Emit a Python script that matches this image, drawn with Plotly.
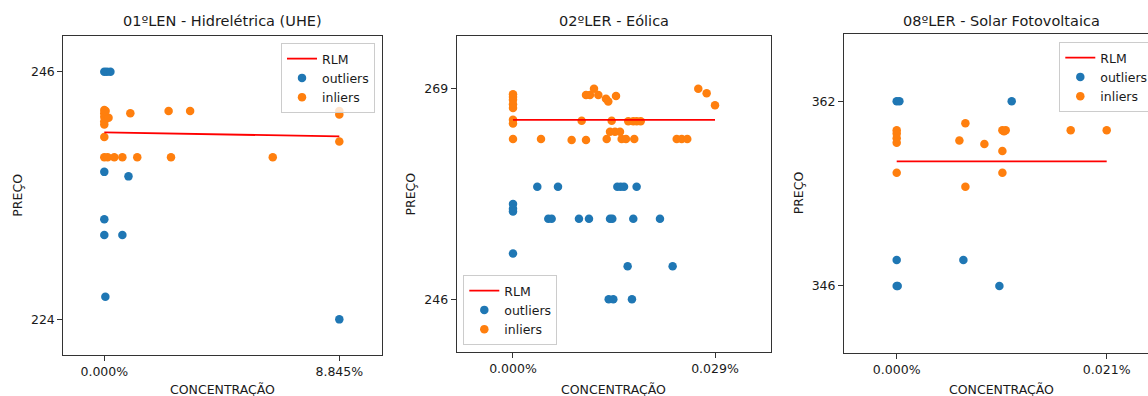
import plotly.graph_objects as go

# ---------------- data ----------------
titles = ["01ºLEN - Hidrelétrica (UHE)", "02ºLER - Eólica", "08ºLER - Solar Fotovoltaica"]

# 01ºLEN - Hidrelétrica (UHE): concentração (%) x preço
len01_out_x = [0.0, 0.10, 0.23, 0.0, 0.91, 0.0, 0.0, 0.68, 0.04, 8.845]
len01_out_y = [246.0, 246.0, 246.0, 237.1, 236.7, 232.9, 231.5, 231.5, 226.0, 224.0]
len01_in_x = [0.0, 0.0, 0.0, 0.0, 0.0, 0.16, 0.05, 0.98, 2.42, 3.23, 8.845, 8.845,
              0.0, 8.845, 0.0, 0.125, 0.376, 0.68, 1.24, 2.51, 6.34]
len01_in_y = [242.6, 242.3, 242.0, 241.6, 241.3, 241.9, 242.5, 242.3, 242.5, 242.5, 242.5, 242.2,
              240.2, 239.8, 238.4, 238.4, 238.4, 238.4, 238.4, 238.4, 238.4]
len01_rlm_x = [0.0, 8.845]
len01_rlm_y = [240.6, 240.25]

# 02ºLER - Eólica
ler02_out_x = [0.00349, 0.00646, 0.01498, 0.01546, 0.01594, 0.01775,
               0.0, 0.0, 0.0,
               0.00507, 0.00555, 0.00947, 0.01091, 0.01393, 0.01426, 0.01727, 0.0211,
               0.0, 0.01646, 0.02292, 0.01374, 0.0144, 0.01708]
ler02_out_y = [258.3, 258.3, 258.3, 258.3, 258.3, 258.3,
               256.4, 255.9, 255.6,
               254.8, 254.8, 254.8, 254.8, 254.8, 254.8, 254.8, 254.8,
               251.0, 249.6, 249.6, 246.0, 246.0, 246.0]
ler02_in_x = [0.0, 0.0, 0.0, 0.0, 0.0, 0.0, 0.0, 0.0,
              0.00402, 0.00842, 0.01048, 0.00986,
              0.01048, 0.01105, 0.01163, 0.01225, 0.01335, 0.01368, 0.01479,
              0.01417, 0.01655, 0.01727, 0.01776, 0.01833,
              0.01393, 0.01464, 0.01536,
              0.01345, 0.0156, 0.01622, 0.01741,
              0.0235, 0.02422, 0.02502,
              0.0266, 0.0278, 0.029]
ler02_in_y = [268.4, 268.1, 267.8, 267.3, 266.9, 265.6, 265.2, 263.5,
              263.5, 263.4, 263.4, 265.5,
              268.3, 268.3, 269.0, 268.3, 267.9, 267.6, 268.2,
              265.5, 265.45, 265.45, 265.45, 265.45,
              264.3, 264.3, 264.3,
              263.5, 263.5, 263.5, 263.5,
              263.5, 263.5, 263.5,
              269.0, 268.5, 267.2]
ler02_rlm_x = [0.0, 0.029]
ler02_rlm_y = [265.6, 265.6]

# 08ºLER - Solar Fotovoltaica
ler08_out_x = [0.0, 0.00027, 0.0115, 0.0, 0.00667, 0.0, 0.0001, 0.01027]
ler08_out_y = [362.0, 362.0, 362.0, 348.25, 348.25, 346.0, 346.0, 346.0]
ler08_in_x = [0.0, 0.0, 0.0, 0.0, 0.0,
              0.00687, 0.00627, 0.00877, 0.01057, 0.0109, 0.01073,
              0.01057, 0.01057, 0.00687, 0.0174, 0.021]
ler08_in_y = [359.5, 359.2, 358.8, 358.4, 355.8,
              360.1, 358.6, 358.3, 359.5, 359.5, 359.4,
              357.7, 355.8, 354.6, 359.5, 359.5]
ler08_rlm_x = [0.0, 0.021]
ler08_rlm_y = [356.8, 356.8]

x_tickvals = [[0.0, 8.845], [0.0, 0.029], [0.0, 0.021]]
x_ticktext = [["0.000%", "8.845%"], ["0.000%", "0.029%"], ["0.000%", "0.021%"]]
y_tickvals = [[224, 246], [246, 269], [346, 362]]
y_ticktext = [["224", "246"], ["246", "269"], ["346", "362"]]

x_label = "CONCENTRAÇÃO"
y_label = "PREÇO"
legend_names = ["RLM", "outliers", "inliers"]

# ---------------- layout geometry ----------------
W, H = 1148, 396
x_domains = [[63.3 / W, 381.7 / W], [456.7 / W, 770.7 / W], [844 / W, 1.0]]
y_domains = [[1 - 354.5 / H, 1 - 36.3 / H], [1 - 351.7 / H, 1 - 36 / H], [1 - 352.7 / H, 1 - 34 / H]]
x_ranges = [[-1.543, 10.44], [-0.00808, 0.036996], [-0.00527, 0.02513]]
y_ranges = [[220.88, 249.14], [240.28, 274.75], [340.22, 367.83]]

BLUE = "#1f77b4"
ORANGE = "#ff7f0e"
RED = "#ff0000"
FONT = "DejaVu Sans"
TEXT = "#1a1a1a"

panels = [
    (len01_out_x, len01_out_y, len01_in_x, len01_in_y, len01_rlm_x, len01_rlm_y),
    (ler02_out_x, ler02_out_y, ler02_in_x, ler02_in_y, ler02_rlm_x, ler02_rlm_y),
    (ler08_out_x, ler08_out_y, ler08_in_x, ler08_in_y, ler08_rlm_x, ler08_rlm_y),
]

fig = go.Figure()
legend_ids = ["legend", "legend2", "legend3"]

for i, (ox, oy, ix, iy, rx, ry) in enumerate(panels):
    xa = "x" if i == 0 else f"x{i + 1}"
    ya = "y" if i == 0 else f"y{i + 1}"
    lg = legend_ids[i]
    fig.add_trace(go.Scatter(x=ox, y=oy, mode="markers", name=legend_names[1],
                             marker=dict(color=BLUE, size=8.5), xaxis=xa, yaxis=ya,
                             legend=lg, legendrank=2))
    fig.add_trace(go.Scatter(x=ix, y=iy, mode="markers", name=legend_names[2],
                             marker=dict(color=ORANGE, size=8.5), xaxis=xa, yaxis=ya,
                             legend=lg, legendrank=3))
    fig.add_trace(go.Scatter(x=rx, y=ry, mode="lines", name=legend_names[0],
                             line=dict(color=RED, width=1.8), xaxis=xa, yaxis=ya,
                             legend=lg, legendrank=1))

axis_common = dict(showgrid=False, zeroline=False, showline=True, linecolor="#333333",
                   linewidth=1, ticks="outside", ticklen=5, tickcolor="#333333",
                   tickfont=dict(family=FONT, size=12.5, color=TEXT))

layout = dict(
    width=W, height=H,
    margin=dict(l=0, r=0, t=0, b=0, pad=0, autoexpand=False),
    paper_bgcolor="white", plot_bgcolor="white",
    font=dict(family=FONT, size=12, color=TEXT),
)

for i in range(3):
    sfx = "" if i == 0 else str(i + 1)
    xa = dict(axis_common, domain=x_domains[i], range=x_ranges[i],
              tickmode="array", tickvals=x_tickvals[i], ticktext=x_ticktext[i],
              anchor="y" + sfx, mirror=True)
    ya = dict(axis_common, domain=y_domains[i], range=y_ranges[i],
              tickmode="array", tickvals=y_tickvals[i], ticktext=y_ticktext[i],
              anchor="x" + sfx, mirror=(i < 2))
    layout["xaxis" + sfx] = xa
    layout["yaxis" + sfx] = ya

legend_style = dict(bgcolor="rgba(255,255,255,0.8)", bordercolor="#cccccc", borderwidth=1,
                    font=dict(family=FONT, size=12.5, color=TEXT),
                    itemwidth=30, tracegroupgap=0, traceorder="normal")
layout["legend"] = dict(legend_style, x=375 / W, y=1 - 43 / H, xanchor="right", yanchor="top")
layout["legend2"] = dict(legend_style, x=463.3 / W, y=1 - 345 / H, xanchor="left", yanchor="bottom")
layout["legend3"] = dict(legend_style, x=1059.3 / W, y=1 - 42 / H, xanchor="left", yanchor="top")

fig.update_layout(**layout)

annotations = []
for i in range(3):
    x0, x1 = x_domains[i]
    if i == 2:
        x1 = 1159 / W
    cx = (x0 + x1) / 2
    annotations.append(dict(text=titles[i], x=cx, y=1 - 20.5 / H, xref="paper", yref="paper",
                            xanchor="center", yanchor="middle", showarrow=False,
                            font=dict(family=FONT, size=14.5, color=TEXT)))
    annotations.append(dict(text=x_label, x=cx, y=1 - 389 / H, xref="paper", yref="paper",
                            xanchor="center", yanchor="middle", showarrow=False,
                            font=dict(family=FONT, size=12.5, color=TEXT)))
    yc = (y_domains[i][0] + y_domains[i][1]) / 2
    annotations.append(dict(text=y_label, x=x0 - 46 / W, y=yc, xref="paper", yref="paper",
                            xanchor="center", yanchor="middle", showarrow=False, textangle=-90,
                            font=dict(family=FONT, size=12.5, color=TEXT)))
fig.update_layout(annotations=annotations)

fig.write_html("out.html")
